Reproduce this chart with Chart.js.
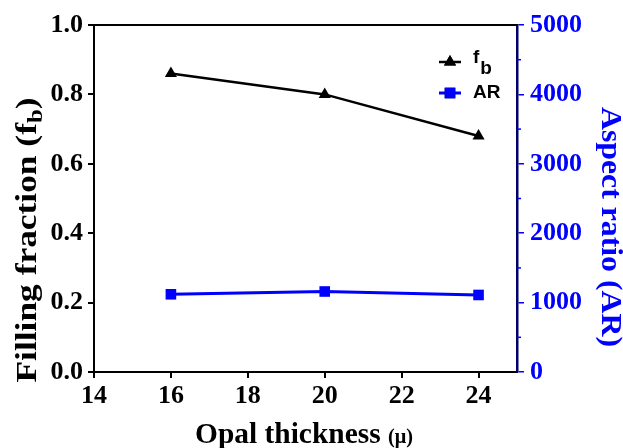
<!DOCTYPE html>
<html>
<head>
<meta charset="utf-8">
<script src="https://cdn.jsdelivr.net/npm/chart.js@4/dist/chart.umd.min.js"></script>
<style>
    html, body { margin: 0; padding: 0; background: #ffffff; }
    #wrap { width: 623px; height: 448px; }
</style>
</head>
<body>
<div id="wrap"><canvas id="opalChart"></canvas></div>
<script>
// ================= DATA =================
const thickness = [16, 20, 24];
const fillingFraction = [0.86, 0.80, 0.68];
const aspectRatio = [1120, 1160, 1110];

const xTicks = [14, 16, 18, 20, 22, 24];
const yTicks = [0.0, 0.2, 0.4, 0.6, 0.8, 1.0];
const y1Ticks = [0, 1000, 2000, 3000, 4000, 5000];
const y1MinorTicks = [500, 1500, 2500, 3500, 4500];

const serif = "'Liberation Serif', 'Times New Roman', serif";
const sans = "'Liberation Sans', Arial, sans-serif";
const BLUE = "#0000ff";

// draws text stretched along its direction so it fills a given length
function fitText(ctx, parts, length) {
    let total = 0;
    parts.forEach(p => { ctx.font = p.font; p.w = ctx.measureText(p.text).width; total += p.w; });
    const k = length / total;
    ctx.save();
    ctx.scale(k, 1);
    let x = -total / 2;
    parts.forEach(p => {
        ctx.font = p.font;
        ctx.fillText(p.text, x, p.dy || 0);
        x += p.w;
    });
    ctx.restore();
}

// titles, legend, top frame and minor ticks drawn by hand (subscripts)
const decorations = {
    id: "decorations",
    afterDraw(chart) {
        const ctx = chart.ctx;
        const area = chart.chartArea;
        const y1 = chart.scales.y1;
        ctx.save();

        // top frame line
        ctx.strokeStyle = "#000000";
        ctx.lineWidth = 2;
        ctx.beginPath();
        ctx.moveTo(area.left - 1, area.top);
        ctx.lineTo(area.right, area.top);
        ctx.stroke();

        // minor ticks on right axis
        ctx.strokeStyle = BLUE;
        ctx.lineWidth = 1.5;
        y1MinorTicks.forEach(v => {
            const py = y1.getPixelForValue(v);
            ctx.beginPath();
            ctx.moveTo(area.right, py);
            ctx.lineTo(area.right + 4, py);
            ctx.stroke();
        });

        ctx.textAlign = "left";
        ctx.textBaseline = "alphabetic";

        // left title: Filling fraction (f_b)
        ctx.fillStyle = "#000000";
        ctx.save();
        ctx.translate(36, 240);
        ctx.rotate(-Math.PI / 2);
        fitText(ctx, [
            { text: "Filling fraction (f", font: "bold 30px " + serif },
            { text: "b", font: "bold 21px " + serif, dy: 6 },
            { text: ")", font: "bold 30px " + serif }
        ], 285);
        ctx.restore();

        // right title: Aspect ratio (AR)
        ctx.save();
        ctx.translate(602, 227);
        ctx.rotate(Math.PI / 2);
        ctx.fillStyle = BLUE;
        fitText(ctx, [
            { text: "Aspect ratio (AR)", font: "bold 30px " + serif }
        ], 240);
        ctx.restore();

        // x title: Opal thickness (μ)
        ctx.save();
        ctx.translate(304, 443);
        ctx.fillStyle = "#000000";
        fitText(ctx, [
            { text: "Opal thickness ", font: "bold 29px " + serif },
            { text: "(\u03bc)", font: "bold 20px " + serif }
        ], 218);
        ctx.restore();

        // legend
        const items = [
            { ds: chart.data.datasets[0], y: 62, label: "f", sub: "b" },
            { ds: chart.data.datasets[1], y: 93, label: "AR", sub: "" }
        ];
        items.forEach(it => {
            ctx.strokeStyle = it.ds.borderColor;
            ctx.lineWidth = it.ds.borderWidth;
            ctx.beginPath();
            ctx.moveTo(439, it.y);
            ctx.lineTo(461, it.y);
            ctx.stroke();
            Chart.helpers.drawPoint(ctx, {
                pointStyle: it.ds.pointStyle,
                radius: it.ds.pointRadius,
                rotation: 0,
                borderWidth: 0
            }, 450, it.y);
            ctx.fillStyle = it.ds.pointBackgroundColor;
            ctx.fill();
            ctx.fillStyle = "#000000";
            ctx.font = "bold 19px " + sans;
            ctx.textBaseline = "middle";
            ctx.fillText(it.label, 473, it.y - (it.sub ? 4 : 0));
            if (it.sub) {
                const lw = ctx.measureText(it.label).width;
                ctx.fillText(it.sub, 473 + lw + 1, it.y + 7);
            }
        });

        ctx.restore();
    }
};

new Chart(document.getElementById("opalChart"), {
    type: "line",

    data: {
        datasets: [
            {
                label: "fb",
                data: thickness.map((x, i) => ({ x: x, y: fillingFraction[i] })),
                yAxisID: "y",
                borderColor: "#000000",
                backgroundColor: "#000000",
                borderWidth: 2.5,
                pointStyle: "triangle",
                pointRadius: 7,
                pointBackgroundColor: "#000000",
                pointBorderWidth: 0,
                tension: 0
            },
            {
                label: "AR",
                data: thickness.map((x, i) => ({ x: x, y: aspectRatio[i] })),
                yAxisID: "y1",
                borderColor: BLUE,
                backgroundColor: BLUE,
                borderWidth: 3,
                pointStyle: "rect",
                pointRadius: 7.5,
                pointBackgroundColor: BLUE,
                pointBorderWidth: 0,
                tension: 0
            }
        ]
    },

    options: {
        responsive: true,
        maintainAspectRatio: false,
        animation: false,
        layout: {
            padding: { top: 25, left: 0, right: 0, bottom: 0 }
        },

        plugins: {
            legend: { display: false },
            tooltip: { enabled: false }
        },

        scales: {
            x: {
                type: "linear",
                min: 14,
                max: 25,
                afterBuildTicks: s => { s.ticks = xTicks.map(v => ({ value: v })); },
                afterFit: s => { s.height = 76; },
                ticks: {
                    color: "#000000",
                    padding: 3,
                    maxRotation: 0,
                    font: { family: serif, size: 26, weight: "bold" }
                },
                grid: {
                    drawOnChartArea: false,
                    drawTicks: true,
                    tickLength: 6,
                    color: "#000000",
                    lineWidth: 2
                },
                border: { display: true, color: "#000000", width: 2 }
            },

            y: {
                type: "linear",
                position: "left",
                min: 0,
                max: 1,
                afterBuildTicks: s => { s.ticks = yTicks.map(v => ({ value: v })); },
                afterFit: s => { s.width = 94; },
                ticks: {
                    color: "#000000",
                    padding: 5,
                    callback: v => v.toFixed(1),
                    font: { family: serif, size: 26, weight: "bold" }
                },
                grid: {
                    drawOnChartArea: false,
                    drawTicks: true,
                    tickLength: 6,
                    color: "#000000",
                    lineWidth: 2
                },
                border: { display: true, color: "#000000", width: 2 }
            },

            y1: {
                type: "linear",
                position: "right",
                min: 0,
                max: 5000,
                afterBuildTicks: s => { s.ticks = y1Ticks.map(v => ({ value: v })); },
                afterFit: s => { s.width = 106; },
                ticks: {
                    color: BLUE,
                    padding: 6,
                    callback: v => String(v),
                    font: { family: serif, size: 26, weight: "bold" }
                },
                grid: {
                    drawOnChartArea: false,
                    drawTicks: true,
                    tickLength: 7,
                    color: BLUE,
                    lineWidth: 1.5
                },
                border: { display: true, color: "#000066", width: 2.5 }
            }
        }
    },

    plugins: [decorations]
});
</script>
</body>
</html>
